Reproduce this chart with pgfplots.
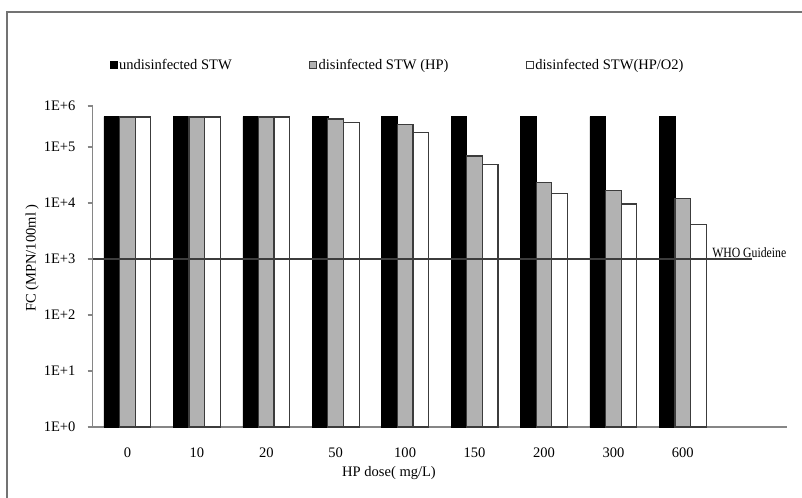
\documentclass[border=0pt]{standalone}
\usepackage{pgfplots}
\pgfplotsset{compat=1.18}
\usepackage{fontspec}
\setmainfont{Liberation Serif}
\definecolor{barGray}{RGB}{178,178,178}
\definecolor{edge}{RGB}{60,60,60}
\definecolor{axGray}{RGB}{134,134,134}
\begin{document}
\fontsize{10.9}{13}\selectfont
\begin{tikzpicture}
\useasboundingbox (0pt,0pt) rectangle (601.5pt,372.75pt);
\clip (0pt,0pt) rectangle (601.5pt,372.75pt);
\fill[white] (0pt,0pt) rectangle (601.5pt,372.75pt);
\draw[black!55, line width=1.3pt] (5.25pt,-20pt) -- (5.25pt,363.75pt) -- (620pt,363.75pt);
\begin{axis}[
  at={(69.525pt,52.5pt)}, anchor=south west,
  scale only axis, width=520.7pt, height=240.75pt,
  xmin=-0.5, xmax=9.5,
  ymode=log, ymin=1, ymax=5.4e5,
  axis x line*=bottom, axis y line*=left,
  axis line style={axGray, line width=0.8pt, -},
  xtick={0,1,2,3,4,5,6,7,8},
  xticklabels={0,10,20,50,100,150,200,300,600},
  major x tick style={draw=none},
  ytick={1,10,100,1000,10000,100000,540000},
  yticklabels={1E+0,1E+1,1E+2,1E+3,1E+4,1E+5,1E+6},
  minor y tick num=0,
  yminorticks=false,
  tick align=outside,
  major tick length=3.75pt,
  major y tick style={axGray, line width=0.8pt},
  xticklabel style={anchor=center, yshift=-15.75pt},
  yticklabel shift=9pt,
  yticklabel style={anchor=east, inner sep=0pt},
  xlabel={HP dose( mg/L)},
  ylabel={FC (MPN/100ml )},
  xlabel style={at={(axis description cs:0.4268,-0.1433)}, anchor=center},
  ylabel style={at={(axis description cs:-0.0874,0.526)}, anchor=center},
  legend columns=3,
  legend style={at={(axis description cs:0.0249,1.1277)}, anchor=west,
    draw=none, fill=none, inner xsep=0pt, inner ysep=0pt,
    cells={anchor=west}, nodes={inner sep=1pt},
    /tikz/every odd column/.append style={column sep=0pt},
    /tikz/every even column/.append style={column sep=57pt}},
  legend image code/.code={\draw[#1] (0pt,-2.6pt) rectangle (5.25pt,2.6pt);},
]
\addplot[ybar, bar width=0.225, bar shift=-0.225, fill=black, draw=black] coordinates {
(0,3.5e5) (1,3.5e5) (2,3.5e5) (3,3.5e5) (4,3.5e5) (5,3.5e5) (6,3.5e5) (7,3.5e5) (8,3.5e5)};
\addlegendentry{undisinfected STW}
\addplot[ybar, bar width=0.225, bar shift=0, fill=barGray, draw=edge, line width=0.9pt] coordinates {
(0,3.45e5) (1,3.45e5) (2,3.45e5) (3,3.16e5) (4,2.5e5) (5,6.9e4) (6,2.3e4) (7,1.7e4) (8,1.2e4)};
\addlegendentry{disinfected STW (HP)}
\addplot[ybar, bar width=0.225, bar shift=0.225, fill=white, draw=edge, line width=0.9pt] coordinates {
(0,3.45e5) (1,3.45e5) (2,3.45e5) (3,2.76e5) (4,1.8e5) (5,4.8e4) (6,1.5e4) (7,9.6e3) (8,4.1e3)};
\addlegendentry{disinfected STW(HP/O2)}
\addplot[edge, line width=0.9pt, forget plot] coordinates {(-0.5,1000) (9,1000)};
\node[anchor=base west, inner sep=0pt, yshift=1.5pt, font=\fontsize{10.6}{12}\selectfont] at (axis cs:8.42,1000) {\scalebox{0.83}[1]{WHO Guideine}};
\end{axis}
\end{tikzpicture}
\end{document}
